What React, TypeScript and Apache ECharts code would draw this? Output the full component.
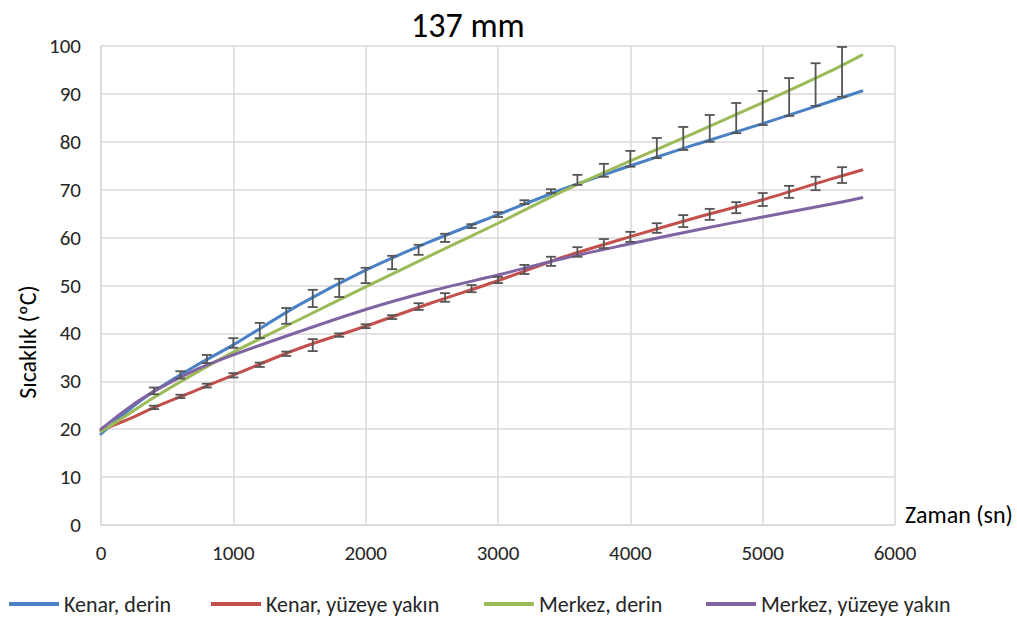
import React, { useEffect, useRef } from "react";
import * as echarts from "echarts";

const chartTitle = "137 mm";
const xAxisName = "Zaman (sn)";
const yAxisName = "Sıcaklık (ºC)";
const seriesNames = ["Kenar, derin", "Kenar, yüzeye yakın", "Merkez, derin", "Merkez, yüzeye yakın"];
const seriesColors = ["#4a80c4", "#c4504c", "#9bbb59", "#8064a2"];

const timeSec = [0, 200, 400, 700, 1000, 1500, 2000, 2500, 3000, 3500, 4000, 4500, 5000, 5500, 5750];
const kenarDerin = [19.0, 23.8, 27.9, 33.0, 37.6, 46.0, 53.2, 59.3, 64.8, 70.2, 75.0, 79.5, 83.8, 88.3, 90.6];
const kenarYuzey = [19.8, 22.0, 24.5, 27.9, 31.3, 36.9, 41.5, 46.4, 51.0, 56.0, 60.2, 64.2, 67.9, 72.1, 74.1];
const merkezDerin = [19.5, 23.0, 26.6, 31.5, 36.1, 42.9, 49.7, 56.4, 63.0, 69.8, 76.0, 82.0, 88.2, 94.6, 98.1];
const merkezYuzey = [20.0, 24.3, 27.9, 32.2, 35.5, 40.4, 45.0, 48.9, 52.2, 55.7, 58.7, 61.6, 64.3, 66.9, 68.3];

const errTime = [400, 600, 800, 1000, 1200, 1400, 1600, 1800, 2000, 2200, 2400, 2600, 2800, 3000, 3200, 3400, 3600, 3800, 4000, 4200, 4400, 4600, 4800, 5000, 5200, 5400, 5600];
const upperLow = [27.3, 30.6, 33.8, 37.0, 39.0, 42.0, 45.5, 47.6, 50.5, 53.4, 56.4, 59.1, 62.0, 64.3, 67.0, 69.3, 71.0, 72.7, 74.8, 76.6, 78.3, 80.0, 81.8, 83.5, 85.4, 87.5, 89.4];
const upperHigh = [28.7, 32.1, 35.5, 39.0, 42.2, 45.3, 49.1, 51.4, 53.7, 56.2, 58.5, 60.8, 62.8, 65.3, 67.8, 70.1, 73.1, 75.4, 78.1, 80.8, 83.1, 85.6, 88.1, 90.6, 93.3, 96.4, 99.8];
const lowerLow = [24.2, 26.5, 28.7, 30.8, 33.0, 35.3, 36.3, 39.3, 41.1, 43.0, 44.9, 46.6, 48.6, 50.5, 52.4, 54.1, 56.0, 57.8, 59.1, 61.0, 62.2, 63.7, 65.1, 66.6, 68.3, 69.9, 71.4];
const lowerHigh = [24.9, 27.2, 29.5, 31.7, 33.9, 36.2, 38.8, 40.0, 41.9, 43.8, 46.3, 48.4, 50.1, 51.8, 54.3, 56.0, 58.0, 59.7, 61.2, 63.0, 64.7, 66.0, 67.4, 69.3, 70.8, 72.7, 74.7];

const FONT = "Carlito, Calibri, Lato, sans-serif";
const TEXT = "#262626";

export default function App() {
  const ref = useRef<HTMLDivElement>(null);
  useEffect(() => {
    if (!ref.current) return;
    const chart = echarts.init(ref.current, null, { renderer: "svg" });
    const lines = [kenarDerin, kenarYuzey, merkezDerin, merkezYuzey];
    const lineSeries = lines.map((vals, i) => ({
      name: seriesNames[i],
      type: "line",
      data: timeSec.map((t, j) => [t, vals[j]]),
      smooth: 0.3,
      symbol: "none",
      lineStyle: { color: seriesColors[i], width: 3, cap: "round" },
      itemStyle: { color: seriesColors[i] },
      z: 2,
    }));
    const errSeries = [
      errTime.map((t, j) => [t, upperLow[j], upperHigh[j]]),
      errTime.map((t, j) => [t, lowerLow[j], lowerHigh[j]]),
    ].map((d, k) => ({
      name: "err" + k,
      type: "custom",
      data: d,
      encode: { x: 0, y: [1, 2] },
      z: 5,
      renderItem: (params: any, api: any) => {
        const x = api.value(0);
        const lo = api.coord([x, api.value(1)]);
        const hi = api.coord([x, api.value(2)]);
        const hw = 5;
        const st = { stroke: "#555555", lineWidth: 1.8 };
        return {
          type: "group",
          children: [
            { type: "line", shape: { x1: lo[0], y1: lo[1], x2: hi[0], y2: hi[1] }, style: st },
            { type: "line", shape: { x1: lo[0] - hw, y1: lo[1], x2: lo[0] + hw, y2: lo[1] }, style: st },
            { type: "line", shape: { x1: hi[0] - hw, y1: hi[1], x2: hi[0] + hw, y2: hi[1] }, style: st },
          ],
        };
      },
    }));
    const legendLefts = [9, 211, 484, 706];
    chart.setOption({
      animation: false,
      backgroundColor: "#ffffff",
      title: {
        text: chartTitle,
        left: 406,
        top: 3,
        textStyle: { fontFamily: FONT, fontSize: 34, fontWeight: "normal", color: "#000" },
      },
      legend: seriesNames.map((n, i) => ({
        data: [n],
        left: legendLefts[i],
        top: 593,
        padding: 0,
        icon: "rect",
        itemWidth: 50,
        itemHeight: 4,
        textStyle: { fontFamily: FONT, fontSize: 22, color: TEXT },
      })),
      grid: { left: 101, right: 122, top: 46, bottom: 93 },
      xAxis: {
        type: "value",
        min: 0,
        max: 6000,
        interval: 1000,
        axisLine: { show: true, lineStyle: { color: "#d9d9d9", width: 1.5 } },
        axisTick: { show: false },
        splitLine: { show: true, lineStyle: { color: "#d9d9d9", width: 1.5 } },
        axisLabel: { fontFamily: FONT, fontSize: 21, color: TEXT, margin: 17, formatter: (v: number) => String(v) },
      },
      yAxis: {
        type: "value",
        min: 0,
        max: 100,
        interval: 10,
        axisLine: { show: true, lineStyle: { color: "#d9d9d9", width: 1.5 } },
        axisTick: { show: false },
        splitLine: { show: true, lineStyle: { color: "#d9d9d9", width: 1.5 } },
        axisLabel: { fontFamily: FONT, fontSize: 21, color: TEXT, margin: 20 },
      },
      graphic: [
        {
          type: "text",
          x: 905,
          y: 514,
          style: { text: xAxisName, fontFamily: FONT, fontSize: 24, fill: "#000", align: "left", verticalAlign: "middle" },
        },
        {
          type: "text",
          x: 27,
          y: 342,
          rotation: Math.PI / 2,
          style: { text: yAxisName, fontFamily: FONT, fontSize: 24, fill: "#000", align: "center", verticalAlign: "middle" },
        },
      ],
      series: [...lineSeries, ...errSeries],
    });
    return () => chart.dispose();
  }, []);
  return <div ref={ref} style={{ position: "absolute", left: 0, top: 0, width: 1017, height: 618 }} />;
}
